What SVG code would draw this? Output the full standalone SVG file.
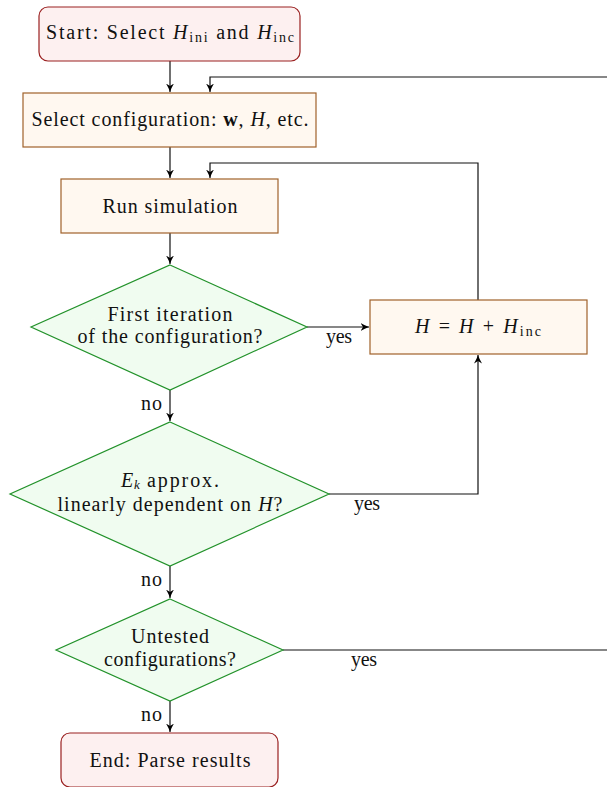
<svg xmlns="http://www.w3.org/2000/svg" width="607" height="787" viewBox="0 0 607 787">
<defs>
<marker id="arr" markerWidth="10" markerHeight="10" refX="8.5" refY="5" orient="auto" markerUnits="userSpaceOnUse">
<path d="M0,1 Q4,3.5 8.5,5 Q4,6.5 0,9 L2.5,5 Z" fill="#000"/>
</marker>
<style>
text{font-family:"Liberation Serif","DejaVu Serif",serif;font-size:20px;fill:#111;text-anchor:middle}
.term{fill:#fdf0f0;stroke:#9a2020;stroke-width:1.2}
.proc{fill:#fff8f0;stroke:#a0622a;stroke-width:1.2}
.dec{fill:#f0fcf0;stroke:#22922a;stroke-width:1.2}
.c{fill:none;stroke:#111;stroke-width:1.2}
.sub{font-size:14px}
.st{text-anchor:start}
</style>
</defs>
<rect width="607" height="787" fill="#fff"/>
<g id="connectors">
<path class="c" d="M170,61 V92" marker-end="url(#arr)"/>
<path class="c" d="M170,147 V178" marker-end="url(#arr)"/>
<path class="c" d="M170,233 V264" marker-end="url(#arr)"/>
<path class="c" d="M307,327 H369" marker-end="url(#arr)"/>
<path class="c" d="M170,390 V421" marker-end="url(#arr)"/>
<path class="c" d="M329,494 H478 V355" marker-end="url(#arr)"/>
<path class="c" d="M478,300 V163 H210 V178" marker-end="url(#arr)"/>
<path class="c" d="M170,566 V598" marker-end="url(#arr)"/>
<path class="c" d="M170,701 V732" marker-end="url(#arr)"/>
<path class="c" d="M283,650 H607"/>
<path class="c" d="M607,77 H210 V92" marker-end="url(#arr)"/>
<text x="339" y="343" textLength="26">yes</text>
<text x="151.5" y="410" textLength="21">no</text>
<text x="367" y="510" textLength="26">yes</text>
<text x="151.5" y="586" textLength="21">no</text>
<text x="364" y="666" textLength="26">yes</text>
<text x="151.5" y="721" textLength="21">no</text>
</g>
<g id="start">
<rect class="term" x="39" y="7" width="261" height="54" rx="9"/>
<text x="170" y="39" textLength="248">Start: Select <tspan font-style="italic">H</tspan><tspan class="sub" dy="3">ini</tspan><tspan dy="-3"> and </tspan><tspan font-style="italic">H</tspan><tspan class="sub" dy="3">inc</tspan></text>
</g>
<g id="select">
<rect class="proc" x="23" y="93" width="293" height="54"/>
<text x="170" y="126" textLength="277">Select configuration: <tspan font-weight="bold">w</tspan>, <tspan font-style="italic">H</tspan>, etc.</text>
</g>
<g id="run">
<rect class="proc" x="61" y="179" width="217" height="54"/>
<text x="170" y="213" textLength="135">Run simulation</text>
</g>
<g id="first">
<polygon class="dec" points="170,265 307,327 170,390 31,327"/>
<text x="170" y="321" textLength="125">First iteration</text>
<text x="170" y="343" textLength="185">of the configuration?</text>
</g>
<g id="hinc">
<rect class="proc" x="370" y="300" width="217" height="54"/>
<text x="478" y="333" textLength="126"><tspan font-style="italic">H</tspan> = <tspan font-style="italic">H</tspan> + <tspan font-style="italic">H</tspan><tspan class="sub" dy="3">inc</tspan></text>
</g>
<g id="linear">
<polygon class="dec" points="170,422 329,494 170,566 10,494"/>
<text class="st" x="121" y="487" font-style="italic">E</text>
<text class="st" x="134" y="489" style="font-size:13px;font-style:italic">k</text>
<text class="st" x="147" y="487" textLength="72">approx.</text>
<text x="170" y="511" textLength="225">linearly dependent on <tspan font-style="italic">H</tspan>?</text>
</g>
<g id="untested">
<polygon class="dec" points="170,599 283,650 170,701 56,650"/>
<text x="170" y="643" textLength="78">Untested</text>
<text x="170" y="666" textLength="132">configurations?</text>
</g>
<g id="end">
<rect class="term" x="61" y="733" width="217" height="54" rx="9"/>
<text x="170" y="767" textLength="161">End: Parse results</text>
</g>
</svg>
